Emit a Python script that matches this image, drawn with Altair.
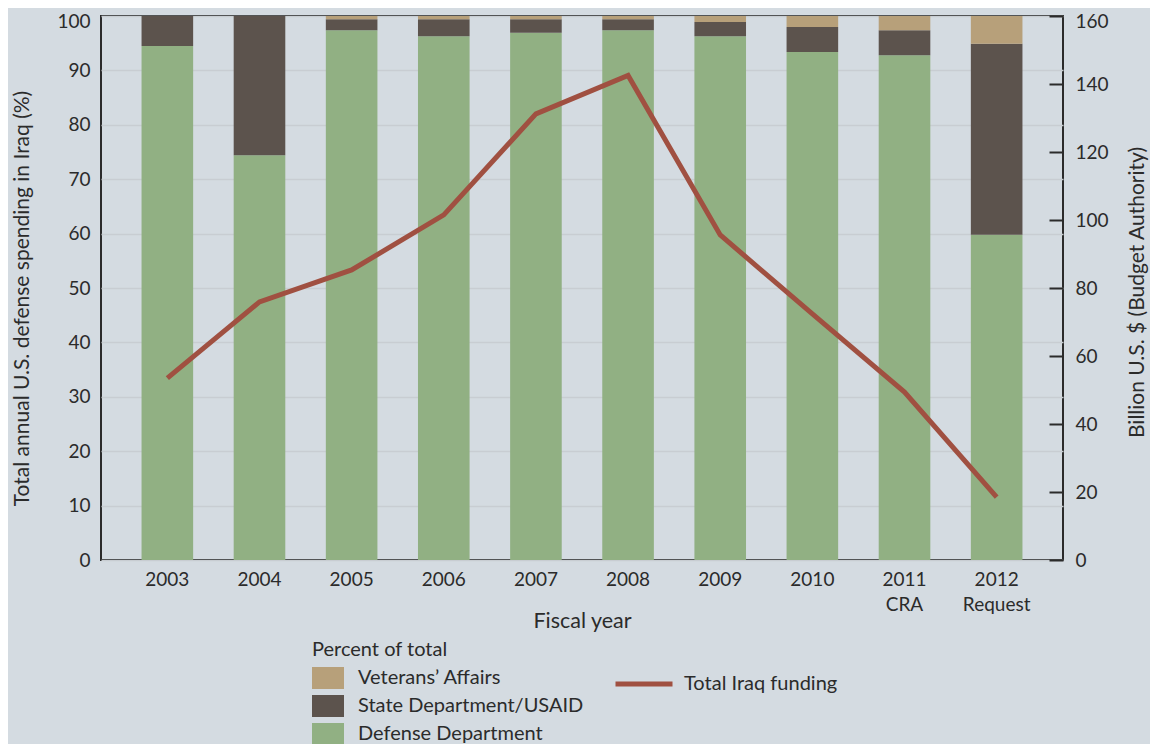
import altair as alt
import pandas as pd

years = ["2003", "2004", "2005", "2006", "2007", "2008", "2009", "2010", "2011 CRA", "2012 Request"]
defense = [94.5, 74.4, 97.4, 96.3, 96.9, 97.4, 96.3, 93.4, 92.8, 59.8]
state = [5.5, 25.6, 2.0, 3.1, 2.5, 2.0, 2.6, 4.6, 4.6, 35.1]
veterans = [0.0, 0.0, 0.6, 0.6, 0.6, 0.6, 1.1, 2.0, 2.6, 5.1]
funding = [53.5, 75.9, 85.3, 101.5, 131.2, 142.5, 95.6, 72.4, 49.4, 18.5]

agencies = ["Veterans’ Affairs", "State Department/USAID", "Defense Department"]
agency_colors = ["#b7a07a", "#5c534d", "#91b083"]
line_name = "Total Iraq funding"
line_color = "#a05041"

rows = []
for i, yr in enumerate(years):
    rows.append({"year": yr, "agency": "Defense Department", "pct": defense[i], "ord": 0})
    rows.append({"year": yr, "agency": "State Department/USAID", "pct": state[i], "ord": 1})
    rows.append({"year": yr, "agency": "Veterans’ Affairs", "pct": veterans[i], "ord": 2})
bars_df = pd.DataFrame(rows)
line_df = pd.DataFrame({"year": years, "funding": funding, "series": [line_name] * len(years)})

FONT = "Lato"
INK = "#2b2b2b"

x_enc = alt.X(
    "year:N",
    sort=years,
    scale=alt.Scale(paddingInner=0.44, paddingOuter=0.44),
    axis=alt.Axis(
        title="Fiscal year",
        labelAngle=0,
        labelExpr="split(datum.value, ' ')",
        ticks=False,
        domain=False,
        labelPadding=10,
        labelLineHeight=25,
        labelFontSize=19,
        titleFontSize=21.5,
        titleY=67,
        titleBaseline="alphabetic",
    ),
)

bars = alt.Chart(bars_df).mark_bar().encode(
    x=x_enc,
    y=alt.Y(
        "pct:Q",
        stack="zero",
        scale=alt.Scale(domain=[0, 100], nice=False),
        axis=alt.Axis(
            title="Total annual U.S. defense spending in Iraq (%)",
            values=list(range(0, 101, 10)),
            ticks=False,
            domain=False,
            grid=True,
            labelPadding=11,
            labelFontSize=19,
            labelOffset={"condition": {"test": "datum.value == 100", "value": 5}, "value": 0},
            titleFontSize=21,
            titlePadding=24,
            titleY=282,
        ),
    ),
    color=alt.Color(
        "agency:N",
        scale=alt.Scale(domain=agencies, range=agency_colors),
        legend=alt.Legend(
            title="Percent of total",
            orient="none",
            legendX=211,
            legendY=624,
            symbolType="M-1,-1L1.909,-1L1.909,1L-1,1Z",
            symbolSize=484,
            symbolStrokeWidth=0,
            symbolOpacity=1,
            rowPadding=6,
            titlePadding=7,
            labelOffset=24,
        ),
    ),
    order=alt.Order("ord:Q", sort="ascending"),
)

line = alt.Chart(line_df).mark_line(strokeWidth=5, strokeJoin="miter", strokeCap="butt").encode(
    x=x_enc,
    y=alt.Y(
        "funding:Q",
        scale=alt.Scale(domain=[0, 160], nice=False),
        axis=alt.Axis(
            orient="right",
            title="Billion U.S. $ (Budget Authority)",
            values=list(range(0, 161, 20)),
            grid=False,
            domain=False,
            offset=-14,
            tickSize=14,
            tickWidth=2,
            tickColor=INK,
            labelPadding=12,
            labelFontSize=19,
            labelOffset={"condition": {"test": "datum.value == 160", "value": 5}, "value": 0},
            titleFontSize=21,
            titleAngle=270,
            titlePadding=39,
            titleY=276,
        ),
    ),
    stroke=alt.Stroke(
        "series:N",
        scale=alt.Scale(domain=[line_name], range=[line_color]),
        legend=alt.Legend(
            title=None,
            orient="none",
            legendX=512,
            legendY=637,
            symbolType="stroke",
            symbolSize=3249,
            symbolStrokeWidth=5,
            labelOffset=9,
        ),
    ),
)

chart = (
    alt.layer(bars, line)
    .resolve_scale(y="independent")
    .properties(
        width=962,
        height=544,
        autosize=alt.AutoSizeParams(type="none"),
        padding={"left": 93, "top": 8, "right": 87, "bottom": 184},
        background="#d4dbe1",
    )
    .configure_view(stroke=INK, strokeWidth=2)
    .configure_axis(
        labelFont=FONT,
        titleFont=FONT,
        labelColor=INK,
        titleColor=INK,
        titleFontWeight="normal",
        gridColor="#c8cdd2",
        gridWidth=1.5,
    )
    .configure_legend(
        labelFont=FONT,
        titleFont=FONT,
        labelFontSize=20,
        titleFontSize=20,
        labelColor=INK,
        titleColor=INK,
        titleFontWeight="normal",
        labelLimit=400,
    )
)

chart.save("out.html", embed_options={"renderer": "svg", "actions": False})
